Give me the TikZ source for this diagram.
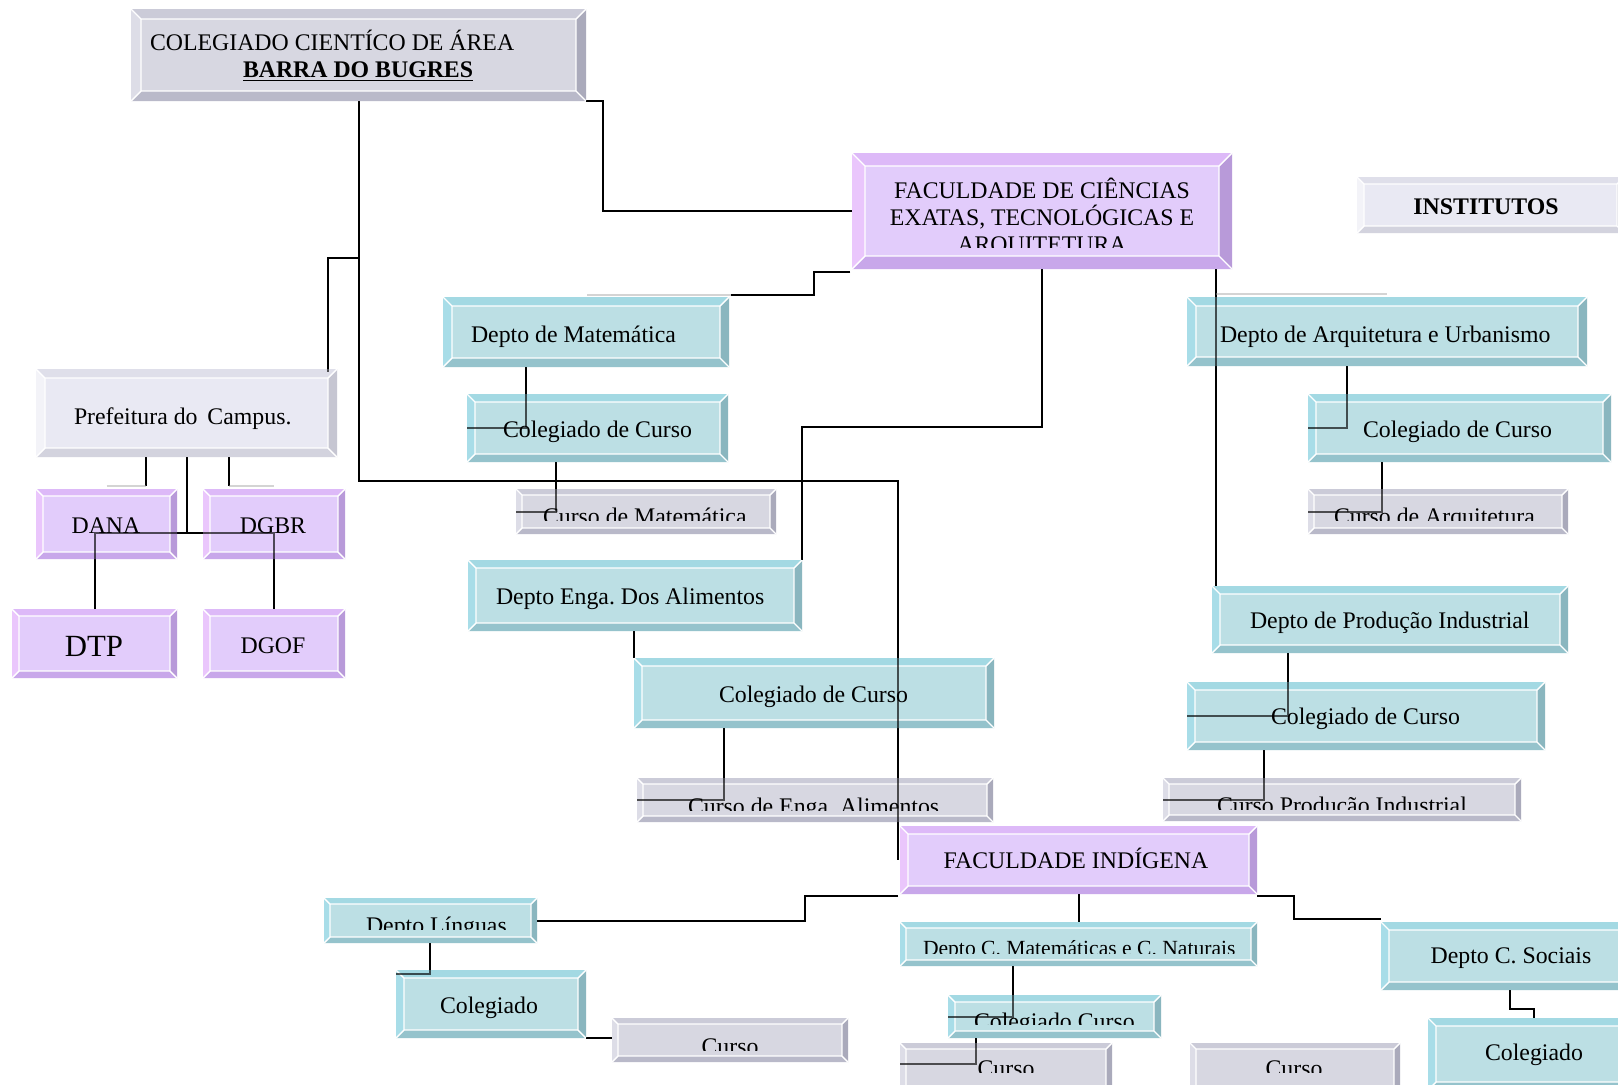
\documentclass[tikz,border=0pt]{standalone}
\usepackage{fontspec}
\setmainfont{Liberation Serif}
\usetikzlibrary{calc,fit}
\frenchspacing

% bevel palettes: F face, T top, L left, R right, B bottom
\definecolor{cyF}{HTML}{BCDFE4}
\definecolor{cyT}{HTML}{A3D9E3}
\definecolor{cyL}{HTML}{A8DDE8}
\definecolor{cyR}{HTML}{8AB6BF}
\definecolor{cyB}{HTML}{95C3CC}
\definecolor{puF}{HTML}{E2CCFB}
\definecolor{puT}{HTML}{DDB9F8}
\definecolor{puL}{HTML}{EAC6FC}
\definecolor{puR}{HTML}{B89AD9}
\definecolor{puB}{HTML}{C8A7EA}
\definecolor{grF}{HTML}{D7D7E1}
\definecolor{grT}{HTML}{CBCBD8}
\definecolor{grL}{HTML}{DDDDE7}
\definecolor{grR}{HTML}{AAAABB}
\definecolor{grB}{HTML}{B9B9C9}
\definecolor{ltF}{HTML}{E9E9F3}
\definecolor{ltT}{HTML}{DFDFEA}
\definecolor{ltL}{HTML}{F3F3F8}
\definecolor{ltR}{HTML}{C6C6D2}
\definecolor{ltB}{HTML}{D3D3DE}

\pgfdeclarelayer{wires}
\pgfdeclarelayer{wiretint}
\pgfdeclarelayer{labels}
\pgfsetlayers{wires,main,wiretint,labels}

\tikzset{
  conn/.style={line width=1pt, draw=black, line join=miter},
  conntint/.style={line width=1pt, draw=black, opacity=0.65, line join=miter},
  faintln/.style={line width=0.6pt, draw=black!17},
  bevline/.style={draw=white, line width=0.7pt},
  lbl/.style={inner sep=0pt, outer sep=0pt, text=black, font=\fontsize{11.9}{13.5}\selectfont},
  lw/.style={lbl, anchor=base west},
  lc/.style={lbl, anchor=base},
}

% bevelled box: name, x1, y1, x2, y2, bevel, palette
\newcommand{\bevbox}[7]{%
  \pgfmathsetmacro{\bxa}{#2+#6}%
  \pgfmathsetmacro{\bya}{#3+#6}%
  \pgfmathsetmacro{\bxb}{#4-#6}%
  \pgfmathsetmacro{\byb}{#5-#6}%
  \fill[#7F] (#2,#3) rectangle (#4,#5);
  \fill[#7T] (#2,#3) -- (#4,#3) -- (\bxb,\bya) -- (\bxa,\bya) -- cycle;
  \fill[#7L] (#2,#3) -- (\bxa,\bya) -- (\bxa,\byb) -- (#2,#5) -- cycle;
  \fill[#7R] (#4,#3) -- (#4,#5) -- (\bxb,\byb) -- (\bxb,\bya) -- cycle;
  \fill[#7B] (#2,#5) -- (#4,#5) -- (\bxb,\byb) -- (\bxa,\byb) -- cycle;
  \draw[bevline] (\bxa,\bya) rectangle (\bxb,\byb)
    (#2,#3) -- (\bxa,\bya) (#4,#3) -- (\bxb,\bya)
    (#4,#5) -- (\bxb,\byb) (#2,#5) -- (\bxa,\byb);
  \node[inner sep=0pt, outer sep=0pt, fit={(#2,#3) (#4,#5)}] (#1) {};
}

% connector: solid below the boxes, tinted where it crosses them
\newcommand{\wire}[1]{%
  \begin{pgfonlayer}{wires}\draw[conn] #1;\end{pgfonlayer}%
  \begin{pgfonlayer}{wiretint}\draw[conntint] #1;\end{pgfonlayer}}

\begin{document}
\begin{tikzpicture}[x=0.5pt, y=-0.5pt]
\useasboundingbox (0,0) rectangle (1618,1084);
\begin{pgfonlayer}{wires}
  \fill[white] (0,0) rectangle (1618,1084);
\end{pgfonlayer}

% ---- boxes ----
\bevbox{ccab}{131}{9}{586}{101}{10}{gr}
\bevbox{fcet}{852}{153}{1232}{269}{13}{pu}
\bevbox{inst}{1357}{177}{1624}{233}{7}{lt}
\bevbox{dmat}{443}{297}{729}{367}{9}{cy}
\bevbox{ccmat}{467}{394}{728}{462}{8}{cy}
\bevbox{cumat}{516}{489}{776}{534}{6}{gr}
\bevbox{darq}{1187}{297}{1587}{366}{9}{cy}
\bevbox{ccarq}{1308}{394}{1611}{462}{8}{cy}
\bevbox{cuarq}{1308}{489}{1568}{534}{6}{gr}
\bevbox{pref}{36}{369}{337}{457}{9}{lt}
\bevbox{dana}{36}{489}{177}{559}{7}{pu}
\bevbox{dgbr}{203}{489}{345}{559}{7}{pu}
\bevbox{dtp}{12}{609}{177}{678}{7}{pu}
\bevbox{dgof}{203}{609}{345}{678}{7}{pu}
\bevbox{dali}{468}{560}{802}{631}{8}{cy}
\bevbox{ccali}{634}{658}{994}{728}{8}{cy}
\bevbox{cuali}{637}{778}{993}{822}{6}{gr}
\bevbox{dprod}{1212}{586}{1568}{653}{8}{cy}
\bevbox{ccprod}{1187}{682}{1545}{750}{8}{cy}
\bevbox{cuprod}{1163}{778}{1521}{821}{6}{gr}
\bevbox{find}{900}{826}{1257}{894}{8}{pu}
\bevbox{dling}{324}{898}{537}{943}{6}{cy}
\bevbox{colling}{396}{970}{586}{1038}{8}{cy}
\bevbox{culing}{612}{1018}{848}{1062}{6}{gr}
\bevbox{dcmn}{900}{922}{1257}{966}{6}{cy}
\bevbox{cccmn}{948}{995}{1161}{1038}{7}{cy}
\bevbox{cucmn1}{900}{1043}{1112}{1095}{6}{gr}
\bevbox{cucmn2}{1190}{1043}{1400}{1095}{6}{gr}
\bevbox{dsoc}{1381}{922}{1640}{990}{8}{cy}
\bevbox{colsoc}{1428}{1018}{1640}{1090}{8}{cy}

% ---- junction points ----
\coordinate (j1) at (898,481);
\coordinate (j2) at (358.5,258);
\coordinate (j3) at (603,211);
\coordinate (j5) at (802,427);
\coordinate (j6) at (186.5,533);

% ---- connectors ----
\wire{(ccab.south) |- (j1) -- (j1 |- find.west)}
\wire{(j2) -| ($(pref.north east)+(-9,3)$)}
\wire{(ccab.south east) -| (j3) -- (fcet.west)}
\wire{($(fcet.south west)+(-2,3)$) -| ($(dmat.north east)+(85,-2)$) -- ($(dmat.north east)+(2,-2)$)}
\wire{(fcet.south) |- (j5) -- (dali.north east)}
\wire{($(fcet.south east)+(-16,0)$) -- ($(dprod.north west)+(4,0)$)}
\wire{($(dmat.south west)+(83,0)$) |- (ccmat.west)}
\wire{($(ccmat.south west)+(89,0)$) |- (cumat.west)}
\wire{($(darq.south west)+(160,0)$) |- (ccarq.west)}
\wire{($(ccarq.south west)+(74,0)$) |- (cuarq.west)}
\wire{(ccali.north west |- dali.south) -- (ccali.north west)}
\wire{($(ccali.south west)+(90,0)$) |- (cuali.west)}
\wire{($(dprod.south west)+(76,0)$) |- (ccprod.west)}
\wire{($(ccprod.south west)+(77,0)$) |- (cuprod.west)}
\wire{($(find.south west)+(-2,2)$) -| ($(dling.east)+(268,0)$) -- (dling.east)}
\wire{(find.south) -- (dcmn.north)}
\wire{($(find.south east)+(0,2)$) -| ($(dsoc.north west)+(-87,-3)$) -- ($(dsoc.north west)+(0,-3)$)}
\wire{($(dling.south west)+(106,0)$) |- ($(colling.north west)+(0,4)$)}
\wire{(colling.south east) -- (colling.south east -| culing.west)}
\wire{($(dcmn.south west)+(113,0)$) |- (cccmn.west)}
\wire{($(cccmn.south west)+(28,0)$) |- ($(cucmn1.north west)+(0,21)$)}
\wire{($(dsoc.south west)+(129,0)$) |- ($(colsoc.north)+(0,-9)$) -- (colsoc.north)}
\wire{($(pref.south west)+(110,0)$) -- ($(dana.north west)+(110,-3)$)}
\wire{($(pref.south west)+(193,0)$) -- ($(dana.north west)+(193,-3)$)}
\wire{(pref.south) -- (j6)}
\wire{(dtp.north) |- (j6) -| (dgof.north)}

% faint guide strokes
\begin{pgfonlayer}{wires}
  \draw[faintln] ($(dana.north)+(0,-3)$) -- ($(dana.north west)+(110,-3)$);
  \draw[faintln] ($(dana.north west)+(193,-3)$) -- ($(dgbr.north)+(0,-3)$);
  \draw[faintln] ($(dmat.north east)+(-142,-2)$) -- ($(dmat.north east)+(2,-2)$);
  \draw[faintln] ($(darq.north west)+(29,-3)$) -- ($(darq.north west)+(200,-3)$);
\end{pgfonlayer}

% ---- labels ----
\begin{pgfonlayer}{labels}
\node[lw] (ccab-t1) at (150,50) {COLEGIADO CIENTÍCO DE ÁREA};
\node[lw] (ccab-t2) at (243,77) {\textbf{\underline{BARRA DO BUGRES}}};
\node[lc] (fcet-t1) at (1042,198) {FACULDADE DE CIÊNCIAS};
\node[lc] (fcet-t2) at (1042,225) {EXATAS, TECNOLÓGICAS E};
\begin{scope}
  \clip (852,153) rectangle (1232,247);
  \node[lc] (fcet-t3) at (1042,252) {ARQUITETURA};
\end{scope}
\node[lc] (inst-t) at (1486,214) {\textbf{INSTITUTOS}};
\node[lw] (dmat-t) at (471,342) {Depto de Matemática};
\node[lw] (ccmat-t) at (503,437) {Colegiado de Curso};
\begin{scope}
  \clip (516,489) rectangle (776,520);
  \node[lw] (cumat-t) at (543,524) {Curso de Matemática};
\end{scope}
\node[lw] (darq-t) at (1220,342) {Depto de Arquitetura e Urbanismo};
\node[lw] (ccarq-t) at (1363,437) {Colegiado de Curso};
\begin{scope}
  \clip (1308,489) rectangle (1568,520);
  \node[lw] (cuarq-t) at (1334,524) {Curso de Arquitetura};
\end{scope}
\node[lw] (pref-t) at (74,424) {Prefeitura do\ \,Campus.};
\node[lc] (dana-t) at (106,533) {DANA};
\node[lc] (dgbr-t) at (273,533) {DGBR};
\node[lc, font=\fontsize{15.4}{17}\selectfont] (dtp-t) at (94,656) {DTP};
\node[lc] (dgof-t) at (273,653) {DGOF};
\node[lw] (dali-t) at (496,604) {Depto Enga. Dos Alimentos};
\node[lw] (ccali-t) at (719,702) {Colegiado de Curso};
\begin{scope}
  \clip (637,778) rectangle (993,810);
  \node[lw] (cuali-t) at (688,814) {Curso de Enga. Alimentos};
\end{scope}
\node[lw] (dprod-t) at (1250,628) {Depto de Produção Industrial};
\node[lw] (ccprod-t) at (1271,724) {Colegiado de Curso};
\begin{scope}
  \clip (1163,778) rectangle (1521,809);
  \node[lw] (cuprod-t) at (1217,813) {Curso Produção Industrial};
\end{scope}
\node[lc] (find-t) at (1076,868) {FACULDADE INDÍGENA};
\begin{scope}
  \clip (324,898) rectangle (537,929);
  \node[lw] (dling-t) at (366,933) {Depto Línguas};
\end{scope}
\node[lc] (colling-t) at (489,1013) {Colegiado};
\begin{scope}
  \clip (612,1018) rectangle (848,1050);
  \node[lc] (culing-t) at (730,1054) {Curso};
\end{scope}
\begin{scope}
  \clip (900,922) rectangle (1257,953);
  \node[lw, font=\fontsize{10.8}{12}\selectfont] (dcmn-t) at (923,955) {Depto C. Matemáticas e C. Naturais};
\end{scope}
\begin{scope}
  \clip (948,995) rectangle (1161,1024);
  \node[lw] (cccmn-t) at (974,1029) {Colegiado Curso};
\end{scope}
\begin{scope}
  \clip (900,1043) rectangle (1112,1072);
  \node[lc] (cucmn1-t) at (1006,1076) {Curso};
\end{scope}
\begin{scope}
  \clip (1190,1043) rectangle (1400,1072);
  \node[lc] (cucmn2-t) at (1294,1076) {Curso};
\end{scope}
\node[lc] (dsoc-t) at (1511,963) {Depto C. Sociais};
\node[lc] (colsoc-t) at (1534,1060) {Colegiado};
\end{pgfonlayer}
\end{tikzpicture}
\end{document}
